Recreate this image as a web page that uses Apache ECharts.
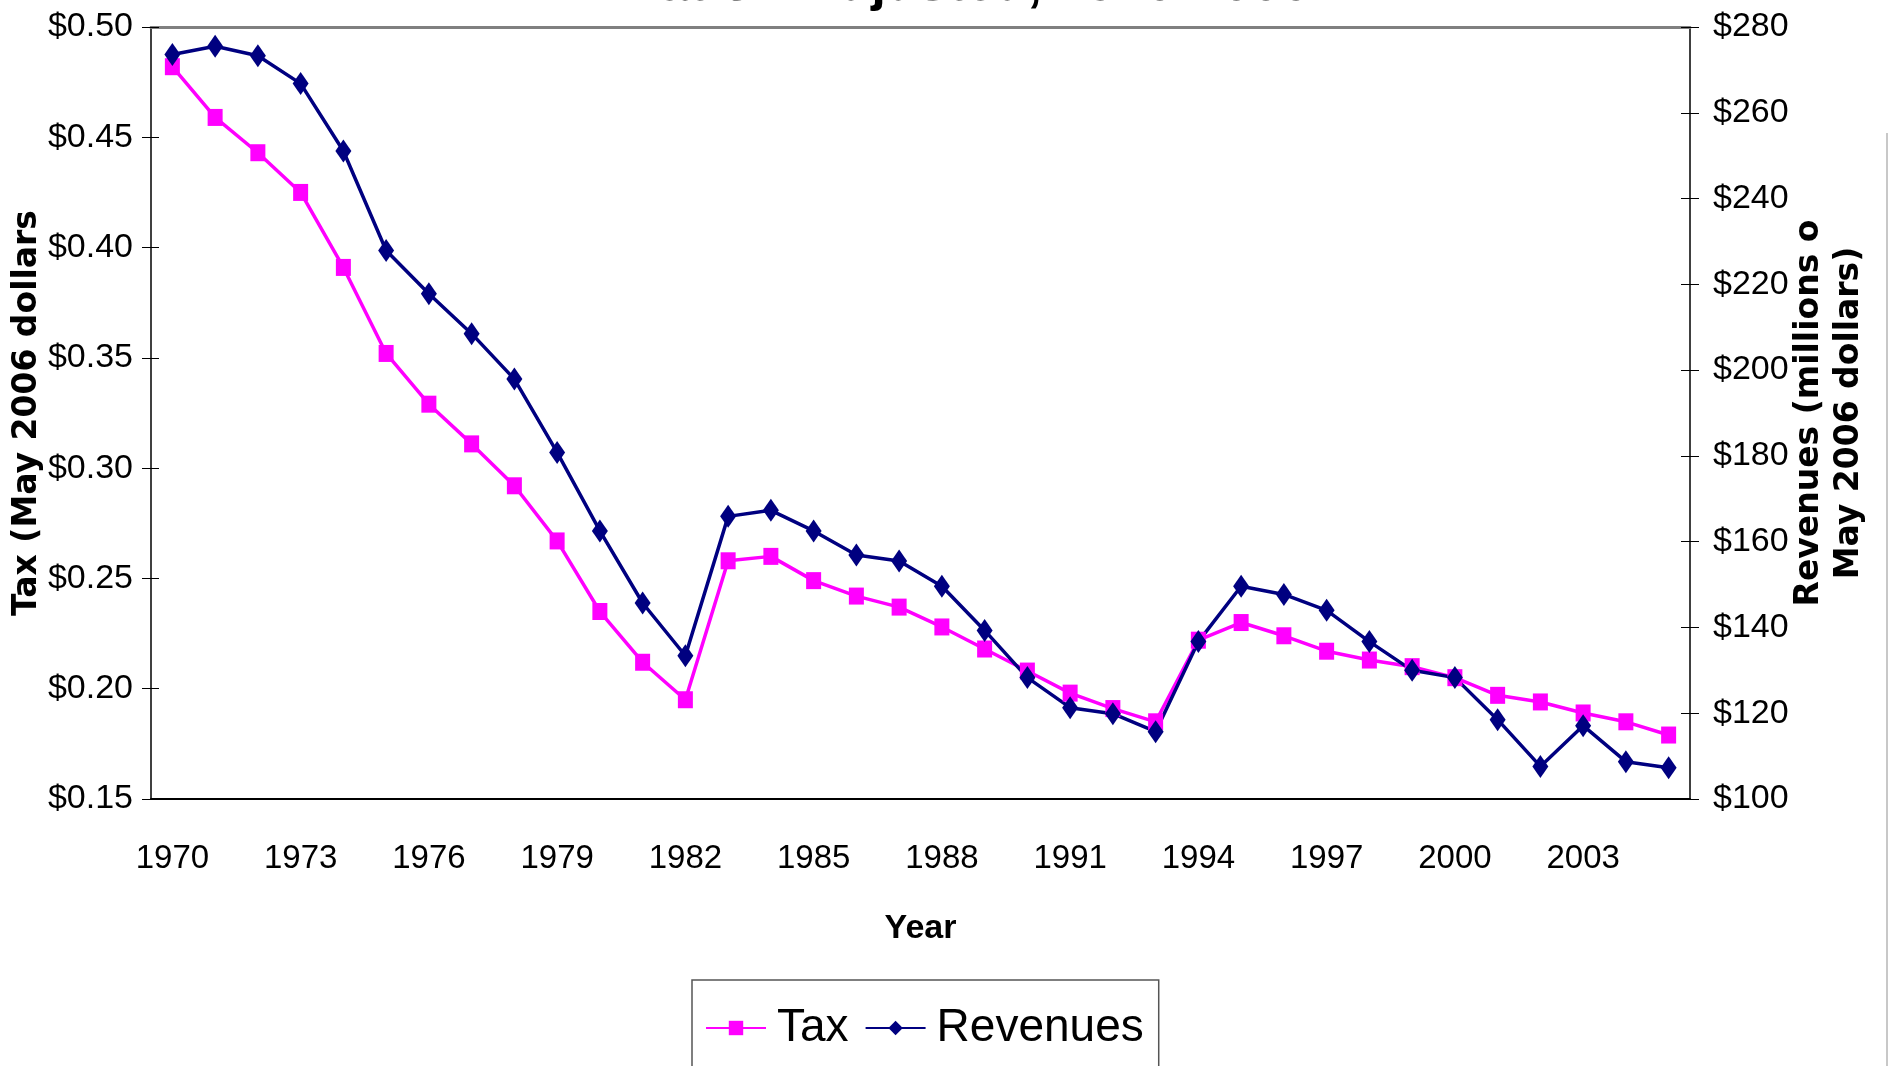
<!DOCTYPE html>
<html>
<head>
<meta charset="utf-8">
<script src="https://cdn.jsdelivr.net/npm/echarts@6/dist/echarts.min.js"></script>
<style>
  html, body { margin: 0; padding: 0; background: #fff; }
  #chart { width: 1890px; height: 1066px; }
</style>
</head>
<body>
<div id="chart"></div>
<script>
// data
const years = ['1970','1971','1972','1973','1974','1975','1976','1977','1978','1979',
  '1980','1981','1982','1983','1984','1985','1986','1987','1988','1989',
  '1990','1991','1992','1993','1994','1995','1996','1997','1998','1999',
  '2000','2001','2002','2003','2004','2005']
const taxValues = [0.482,0.459,0.443,0.425,0.391,0.352,0.329,0.311,0.292,0.267,
  0.235,0.212,0.195,0.258,0.260,0.249,0.242,0.237,0.228,0.218,
  0.208,0.198,0.191,0.185,0.222,0.230,0.224,0.217,0.213,0.210,
  0.205,0.197,0.194,0.189,0.185,0.179]
const revenueValues = [273.6,275.5,273.3,266.8,251.1,227.9,217.8,208.5,197.9,180.8,
  162.5,145.7,133.4,165.9,167.3,162.5,156.9,155.5,149.6,139.3,
  128.3,121.3,119.9,115.7,136.7,149.6,147.7,144.0,136.7,130.0,
  128.3,118.5,107.6,117.1,108.7,107.3]
const titleText = 'Inflation Adjusted, 1970-2006'
const leftName = 'Tax (May 2006 dollars'
const rightName = 'Revenues (millions o\nMay 2006 dollars)'

const sans = "'Liberation Sans', Arial, sans-serif"
const wideBold = "'DejaVu Sans', sans-serif"

const chart = echarts.init(document.getElementById('chart'))

const option = {
  animation: false,
  backgroundColor: '#fff',
  title: {
    text: titleText,
    left: 'center',
    top: -46,
    textStyle: { fontFamily: sans, fontSize: 53, fontWeight: 'bold', color: '#000' }
  },
  grid: { left: 151, right: 200, top: 27, bottom: 267, outerBoundsMode: 'none' },
  legend: {
    left: 692,
    top: 980,
    padding: [25, 15, 30, 13],
    itemGap: 16,
    itemWidth: 60,
    itemHeight: 18,
    borderColor: '#555',
    borderWidth: 1.5,
    textStyle: { fontFamily: sans, fontSize: 46, color: '#000', padding: [0, 0, 0, 6] },
    data: ['Tax', 'Revenues']
  },
  xAxis: [
    {
      type: 'category',
      position: 'bottom',
      data: years,
      boundaryGap: true,
      axisLine: { lineStyle: { color: '#000', width: 2 } },
      axisTick: { interval: 0, length: 12, lineStyle: { color: '#000' } },
      axisLabel: { interval: 2, margin: 43, fontFamily: sans, fontSize: 33, color: '#000' },
      name: 'Year',
      nameLocation: 'middle',
      nameGap: 113,
      nameTextStyle: { fontFamily: sans, fontSize: 34, fontWeight: 'bold', color: '#000' }
    },
    {
      type: 'category',
      position: 'bottom',
      data: years,
      axisLine: { show: false },
      axisTick: { interval: 0, inside: true, length: 12, lineStyle: { color: '#000' } },
      axisLabel: { show: false }
    },
    {
      type: 'category',
      position: 'top',
      data: years,
      axisLine: { lineStyle: { color: '#808080', width: 3 } },
      axisTick: { show: false },
      axisLabel: { show: false }
    }
  ],
  yAxis: [
    {
      type: 'value',
      position: 'left',
      min: 0.15, max: 0.5, interval: 0.05,
      splitLine: { show: false },
      axisLine: { show: true, lineStyle: { color: '#000', width: 1.5 } },
      axisTick: { show: true, length: 9, lineStyle: { color: '#000' } },
      axisLabel: {
        margin: 18, fontFamily: sans, fontSize: 34, color: '#000',
        formatter: v => '$' + v.toFixed(2)
      },
      name: leftName,
      nameLocation: 'middle',
      nameRotate: 90,
      nameGap: 107,
      nameMoveOverlap: false,
      nameTextStyle: { fontFamily: wideBold, fontSize: 33, fontWeight: 'bold', color: '#000' }
    },
    {
      type: 'value',
      position: 'right',
      min: 100, max: 280, interval: 20,
      splitLine: { show: false },
      axisLine: { show: true, lineStyle: { color: '#000', width: 1.5 } },
      axisTick: { show: true, length: 9, lineStyle: { color: '#000' } },
      axisLabel: {
        margin: 23, fontFamily: sans, fontSize: 34, color: '#000',
        formatter: v => '$' + v
      },
      name: rightName,
      nameLocation: 'middle',
      nameRotate: 90,
      nameGap: 99,
      nameMoveOverlap: false,
      nameTextStyle: { fontFamily: wideBold, fontSize: 33, fontWeight: 'bold', color: '#000', lineHeight: 40 }
    },
    {
      type: 'value',
      position: 'left',
      min: 0.15, max: 0.5, interval: 0.05,
      splitLine: { show: false },
      axisLine: { show: false },
      axisTick: { show: true, inside: true, length: 8, lineStyle: { color: '#000' } },
      axisLabel: { show: false }
    },
    {
      type: 'value',
      position: 'right',
      min: 100, max: 280, interval: 20,
      splitLine: { show: false },
      axisLine: { show: false },
      axisTick: { show: true, inside: true, length: 9, lineStyle: { color: '#000' } },
      axisLabel: { show: false }
    }
  ],
  graphic: [
    {
      type: 'line',
      shape: { x1: 1887, y1: 133, x2: 1887, y2: 1066 },
      style: { stroke: '#c8c8c8', lineWidth: 2 }
    }
  ],
  series: [
    {
      name: 'Tax',
      type: 'line',
      xAxisIndex: 0,
      yAxisIndex: 0,
      data: taxValues,
      symbol: 'rect',
      symbolSize: [15, 17],
      itemStyle: { color: '#ff00ff' },
      lineStyle: { color: '#ff00ff', width: 3.5 }
    },
    {
      name: 'Revenues',
      type: 'line',
      xAxisIndex: 0,
      yAxisIndex: 1,
      data: revenueValues,
      symbol: 'diamond',
      symbolSize: [16, 23],
      itemStyle: { color: '#000080' },
      lineStyle: { color: '#000080', width: 3.5 }
    }
  ]
}

chart.setOption(option)
</script>
</body>
</html>
